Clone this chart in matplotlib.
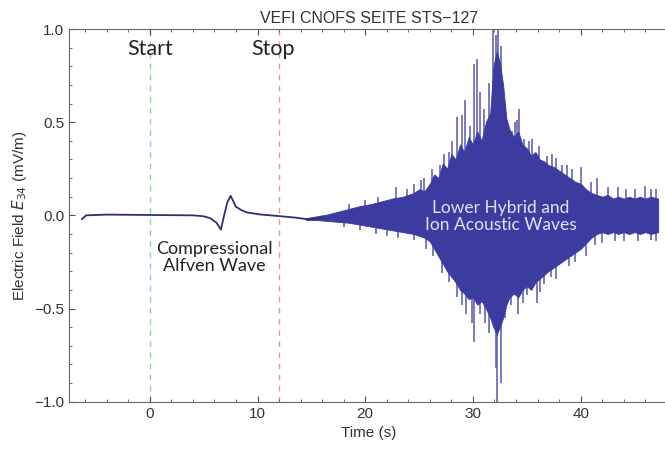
import matplotlib
matplotlib.use("Agg")
import matplotlib.pyplot as plt
from matplotlib.ticker import MultipleLocator

# smooth part of the trace before the wave packet
t_smooth = [-6.3, -5.9, -4.0, -2.0, 0.0, 2.0, 4.0, 5.0, 5.6, 6.2, 6.6, 6.9, 7.2, 7.5,
            8.0, 8.5, 9.0, 10.2, 12.0, 13.5, 14.5, 15.3, 16.0]
e_smooth = [-0.02, 0.0, 0.004, 0.003, 0.002, 0.001, 0.0, -0.005, -0.015, -0.04, -0.076,
            0.0, 0.07, 0.105, 0.046, 0.028, 0.016, 0.005, -0.004, -0.012, -0.02, -0.02, -0.01]

# dense envelope of the oscillations
t_env = [14.5, 15.5, 16.5, 17.5, 18.5, 19.5, 20.5, 21.5, 22.5, 23.5, 24.5, 25.0, 25.5,
         26.0, 26.4, 26.8, 27.2, 27.6, 28.0, 28.4, 28.8, 29.2, 29.6, 30.0, 30.4, 30.8,
         31.2, 31.6, 31.9, 32.2, 32.5, 32.8, 33.1, 33.4, 33.8, 34.2, 34.6, 35.0, 35.4,
         35.8, 36.2, 36.6, 37.0, 37.5, 38.0, 38.5, 39.0, 39.5, 40.0, 40.5, 41.0, 41.5,
         42.0, 42.5, 43.0, 43.5, 44.0, 44.5, 45.0, 45.5, 46.0, 46.5, 47.2]
env_hi = [-0.015, -0.005, 0.005, 0.02, 0.035, 0.05, 0.06, 0.075, 0.09, 0.10, 0.12, 0.14,
          0.13, 0.17, 0.22, 0.20, 0.28, 0.25, 0.33, 0.30, 0.38, 0.34, 0.42, 0.38, 0.45,
          0.40, 0.50, 0.55, 0.80, 0.88, 0.82, 0.70, 0.52, 0.46, 0.42, 0.45, 0.38, 0.36,
          0.32, 0.34, 0.30, 0.29, 0.27, 0.26, 0.24, 0.22, 0.20, 0.18, 0.17, 0.14, 0.12,
          0.11, 0.10, 0.11, 0.09, 0.10, 0.09, 0.10, 0.09, 0.10, 0.09, 0.10, 0.09]
env_lo = [-0.025, -0.025, -0.03, -0.035, -0.04, -0.05, -0.06, -0.07, -0.08, -0.09, -0.10,
          -0.11, -0.12, -0.14, -0.18, -0.22, -0.26, -0.30, -0.33, -0.36, -0.40, -0.42,
          -0.45, -0.44, -0.48, -0.46, -0.50, -0.55, -0.60, -0.64, -0.60, -0.55, -0.48,
          -0.44, -0.42, -0.44, -0.40, -0.38, -0.40, -0.36, -0.34, -0.32, -0.30, -0.28,
          -0.26, -0.24, -0.22, -0.20, -0.18, -0.15, -0.12, -0.10, -0.09, -0.10, -0.09,
          -0.10, -0.09, -0.10, -0.09, -0.10, -0.09, -0.10, -0.09]

# isolated spikes above and below the envelope
up_t = [18.5, 20.0, 21.2, 22.9, 23.9, 24.5, 25.2, 25.5, 26.2, 26.9, 27.3, 27.8, 28.1,
        28.5, 29.0, 29.3, 29.7, 30.1, 30.4, 30.7, 31.0, 31.5, 31.9, 32.1, 32.3, 32.6,
        33.0, 33.6, 33.9, 34.1, 34.3, 34.7, 35.2, 35.5, 36.1, 36.9, 37.3, 37.7, 38.3,
        38.7, 39.2, 40.0, 41.0, 41.5, 42.5, 43.5, 44.2, 45.0, 46.0, 46.5, 47.0]
up_e = [0.06, 0.08, 0.10, 0.15, 0.14, 0.17, 0.19, 0.20, 0.25, 0.27, 0.33, 0.34, 0.40,
        0.53, 0.54, 0.62, 0.48, 0.81, 0.84, 0.66, 0.57, 0.71, 1.0, 0.97, 1.0, 0.91,
        0.60, 0.45, 0.50, 0.51, 0.57, 0.41, 0.40, 0.41, 0.37, 0.32, 0.33, 0.31, 0.27,
        0.27, 0.25, 0.26, 0.18, 0.20, 0.15, 0.15, 0.14, 0.14, 0.16, 0.14, 0.14]
dn_t = [18.0, 19.5, 21.0, 22.0, 23.0, 24.5, 25.6, 26.3, 27.1, 27.8, 28.5, 29.0, 29.4,
        29.9, 30.1, 30.7, 31.1, 31.5, 32.1, 32.2, 32.6, 33.0, 33.5, 34.2, 34.6, 35.0,
        35.9, 36.2, 36.6, 37.2, 37.7, 38.9, 39.5, 40.5, 41.3, 42.0, 43.2, 44.0, 45.3,
        46.5, 47.0]
dn_e = [-0.06, -0.08, -0.10, -0.11, -0.12, -0.13, -0.18, -0.22, -0.31, -0.36, -0.44,
        -0.48, -0.53, -0.58, -0.68, -0.53, -0.58, -0.63, -0.82, -1.0, -0.90, -0.55,
        -0.48, -0.53, -0.47, -0.43, -0.47, -0.41, -0.37, -0.33, -0.34, -0.27, -0.25,
        -0.22, -0.16, -0.15, -0.14, -0.14, -0.14, -0.13, -0.14]

t_start, t_stop = 0.0, 12.0

plt.rcParams['font.family'] = ['Liberation Sans', 'DejaVu Sans']
fig = plt.figure(figsize=(6.65, 4.49), dpi=100)
ax = fig.add_axes([69 / 665, 1 - 401.7 / 449, 600 / 665, (401.7 - 29) / 449])

dense = '#3b3ba0'
ax.fill_between(t_env, env_lo, env_hi, color=dense, lw=0.6, zorder=3)
ax.vlines(up_t, 0, up_e, color='#6464b4', lw=1.2, zorder=2)
ax.vlines(dn_t, 0, dn_e, color='#6464b4', lw=1.2, zorder=2)
ax.plot(t_smooth, e_smooth, color='#2e2e78', lw=1.3, zorder=4)

ax.axvline(t_start, color='#8fd88f', ls=(0, (4, 4)), lw=1.0, zorder=1)
ax.axvline(t_stop, color='#e39a9a', ls=(0, (4, 4)), lw=1.0, zorder=1)

ann = ['Lato', 'DejaVu Sans']
ax.text(t_start, 0.89, 'Start', ha='center', va='center', fontsize=15.5, family=ann, color='#222222')
ax.text(t_stop - 0.6, 0.89, 'Stop', ha='center', va='center', fontsize=15.5, family=ann, color='#222222')
ax.text(6.0, -0.225, 'Compressional\nAlfven Wave', ha='center', va='center', fontsize=13,
        family=ann, color='#222222', linespacing=1.05)
ax.text(32.6, -0.005, 'Lower Hybrid and\nIon Acoustic Waves', ha='center', va='center',
        fontsize=12.5, family=ann, color='#e2e2f4', linespacing=1.1, zorder=6)

ax.set_xlim(-7.5, 48.2)
ax.set_ylim(-1.0, 1.0)
ax.xaxis.set_major_locator(MultipleLocator(10))
ax.xaxis.set_minor_locator(MultipleLocator(2))
ax.yaxis.set_major_locator(MultipleLocator(0.5))
ax.yaxis.set_minor_locator(MultipleLocator(0.1))
ax.tick_params(which='both', direction='in', top=True, right=False, colors='#555555',
               labelcolor='#333333', labelsize=11)
ax.tick_params(which='major', length=4, width=0.8)
ax.tick_params(which='minor', length=2.5, width=0.6)
for side in ['left', 'bottom', 'top']:
    ax.spines[side].set_color('#666666')
ax.spines['right'].set_visible(False)

ax.set_title('VEFI CNOFS SEITE STS\u2212127', fontsize=11.5, color='#333333', pad=4)
ax.set_xlabel('Time (s)', fontsize=11, color='#333333', labelpad=4)
ax.set_ylabel('Electric Field $E_{34}$ (mV/m)', fontsize=11, color='#333333', labelpad=4)

fig.savefig('out.png', dpi=100)
